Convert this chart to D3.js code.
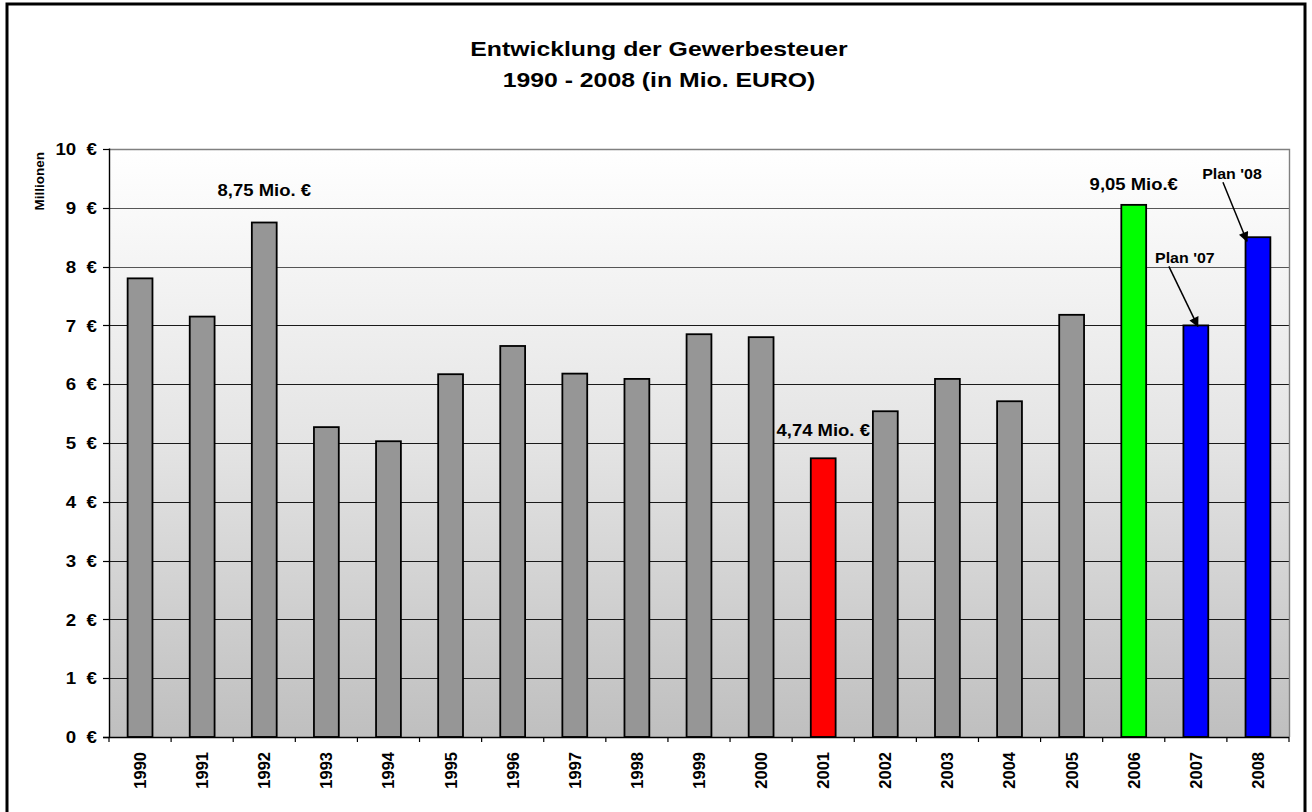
<!DOCTYPE html>
<html>
<head>
<meta charset="utf-8">
<script src="https://cdn.jsdelivr.net/npm/d3@7/dist/d3.min.js"></script>
<style>
  body { margin: 0; background: #fff; }
  svg text { font-family: "Liberation Sans", Arial, sans-serif; font-weight: bold; fill: #000; }
</style>
</head>
<body>
<div id="chart"></div>
<script>
// data
const years = ['1990', '1991', '1992', '1993', '1994', '1995', '1996', '1997', '1998', '1999',
  '2000', '2001', '2002', '2003', '2004', '2005', '2006', '2007', '2008'];
const values = [7.8, 7.15, 8.75, 5.27, 5.03, 6.17, 6.65, 6.18, 6.09, 6.85,
  6.8, 4.74, 5.54, 6.09, 5.71, 7.18, 9.05, 7.0, 8.5];
const yTicks = [0, 1, 2, 3, 4, 5, 6, 7, 8, 9, 10];
const lowYears = ['2001'];
const highYears = ['2006'];
const planYears = ['2007', '2008'];
const valueLabels = [['1992', '8,75 Mio. €'], ['2001', '4,74 Mio. €'], ['2006', '9,05 Mio.€']];
const planLabels = [['2007', "Plan '07"], ['2008', "Plan '08"]];

const W = 1312, H = 812;
const plot = {left: 109, right: 1289, top: 149, bottom: 737};

const svg = d3.select('#chart').append('svg')
  .attr('width', W).attr('height', H);

// gradient for plot background
const defs = svg.append('defs');
const grad = defs.append('linearGradient').attr('id', 'bg')
  .attr('x1', 0).attr('y1', 0).attr('x2', 0).attr('y2', 1);
grad.append('stop').attr('offset', '0%').attr('stop-color', '#ffffff');
grad.append('stop').attr('offset', '50%').attr('stop-color', '#e4e4e4');
grad.append('stop').attr('offset', '100%').attr('stop-color', '#bfbfbf');

defs.append('marker').attr('id', 'arrow')
  .attr('viewBox', '0 0 10 10').attr('refX', 9).attr('refY', 5)
  .attr('markerWidth', 11).attr('markerHeight', 10)
  .attr('markerUnits', 'userSpaceOnUse')
  .attr('orient', 'auto')
  .append('path').attr('d', 'M0,0 L10,5 L0,10 Z').attr('fill', '#000');

// outer frame
svg.append('rect').attr('x', 7).attr('y', 4).attr('width', 1298).attr('height', 830)
  .attr('fill', '#fff').attr('stroke', '#000').attr('stroke-width', 3);

const x = d3.scaleBand().domain(years).range([plot.left, plot.right]);
const y = d3.scaleLinear().domain([0, 10]).range([plot.bottom, plot.top]);
const barW = x.bandwidth() * 0.4;

// plot background
svg.append('rect')
  .attr('x', plot.left).attr('y', y(10))
  .attr('width', plot.right - plot.left).attr('height', y(0) - y(10))
  .attr('fill', 'url(#bg)');

// gridlines
svg.append('g').selectAll('line')
  .data(yTicks.filter(d => d > 0 && d < 10))
  .enter().append('line')
  .attr('x1', plot.left).attr('x2', plot.right)
  .attr('y1', d => Math.round(y(d)) + 0.5).attr('y2', d => Math.round(y(d)) + 0.5)
  .attr('stroke', d => d >= 8 ? '#555' : '#1a1a1a').attr('stroke-width', 1.2);

// plot border (top / right)
svg.append('path')
  .attr('d', `M${plot.left},${Math.round(y(10)) + 0.5} H${plot.right + 0.5} V${plot.bottom}`)
  .attr('fill', 'none').attr('stroke', '#808080').attr('stroke-width', 1.4);

// bars
const colorFor = yr => lowYears.includes(yr) ? '#ff0000'
  : highYears.includes(yr) ? '#00ff00'
  : planYears.includes(yr) ? '#0000ff' : '#969696';

svg.append('g').selectAll('rect')
  .data(years.map((yr, i) => ({year: yr, value: values[i]})))
  .enter().append('rect')
  .attr('x', d => x(d.year) + (x.bandwidth() - barW) / 2)
  .attr('y', d => y(d.value))
  .attr('width', barW)
  .attr('height', d => y(0) - y(d.value))
  .attr('fill', d => colorFor(d.year))
  .attr('stroke', '#000').attr('stroke-width', 1.8);

// y axis
const yAxis = svg.append('g');
yAxis.append('line')
  .attr('x1', plot.left + 0.5).attr('x2', plot.left + 0.5)
  .attr('y1', y(10) - 0.5).attr('y2', y(0))
  .attr('stroke', '#000').attr('stroke-width', 1.4);
yAxis.selectAll('line.tick').data(yTicks).enter().append('line')
  .attr('class', 'tick')
  .attr('x1', plot.left - 6).attr('x2', plot.left)
  .attr('y1', d => Math.round(y(d)) + 0.5).attr('y2', d => Math.round(y(d)) + 0.5)
  .attr('stroke', '#000').attr('stroke-width', 1.2);
yAxis.selectAll('text').data(yTicks).enter().append('text')
  .attr('text-anchor', 'end')
  .attr('font-size', 17)
  .attr('dy', '0.36em')
  .attr('transform', d => `translate(97,${y(d)}) scale(1.1,1)`)
  .text(d => d + '\u00a0\u00a0€');

// y axis title
svg.append('text')
  .attr('text-anchor', 'middle')
  .attr('font-size', 13.5)
  .attr('transform', `translate(44,${y(9.45)}) rotate(-90)`)
  .text('Millionen');

// x axis
const xAxis = svg.append('g');
xAxis.append('line')
  .attr('x1', plot.left - 6).attr('x2', plot.right)
  .attr('y1', y(0) + 0.5).attr('y2', y(0) + 0.5)
  .attr('stroke', '#000').attr('stroke-width', 1.4);
xAxis.selectAll('line.tick').data(years.concat(['end'])).enter().append('line')
  .attr('class', 'tick')
  .attr('x1', d => d === 'end' ? plot.right : x(d))
  .attr('x2', d => d === 'end' ? plot.right : x(d))
  .attr('y1', y(0)).attr('y2', y(0) + 5)
  .attr('stroke', '#000').attr('stroke-width', 1.2);
xAxis.selectAll('text').data(years).enter().append('text')
  .attr('text-anchor', 'end')
  .attr('font-size', 16.5)
  .attr('dy', '0.36em')
  .attr('transform', d => `translate(${x(d) + x.bandwidth() / 2},${y(0) + 15}) rotate(-90)`)
  .text(d => d);

// title
const title = svg.append('g');
title.append('text')
  .attr('text-anchor', 'middle').attr('font-size', 20)
  .attr('transform', 'translate(659,55.5) scale(1.24,1)')
  .text('Entwicklung der Gewerbesteuer');
title.append('text')
  .attr('text-anchor', 'middle').attr('font-size', 20)
  .attr('transform', 'translate(659,87) scale(1.24,1)')
  .text('1990 - 2008 (in Mio. EURO)');

// value labels above highlighted bars
const labelGap = {'1992': 27, '2001': 22, '2006': 15};
svg.append('g').selectAll('text')
  .data(valueLabels)
  .enter().append('text')
  .attr('text-anchor', 'middle')
  .attr('font-size', 16.5)
  .attr('transform', d => {
    const v = values[years.indexOf(d[0])];
    return `translate(${x(d[0]) + x.bandwidth() / 2},${y(v) - labelGap[d[0]]}) scale(1.12,1)`;
  })
  .text(d => d[1]);

// plan labels with arrows
const planLayout = {
  '2007': {lx: -11, ly: 62, ax: -27, ay: 59, tx: 2, ty: 1},
  '2008': {lx: -26, ly: 58, ax: -35, ay: 55, tx: -11, ty: 4}
};
const planG = svg.append('g');
planLabels.forEach(([yr, txt]) => {
  const cx = x(yr) + x.bandwidth() / 2;
  const top = y(values[years.indexOf(yr)]);
  const p = planLayout[yr];
  planG.append('text')
    .attr('text-anchor', 'middle').attr('font-size', 14.5)
    .attr('transform', `translate(${cx + p.lx},${top - p.ly}) scale(1.1,1)`)
    .text(txt);
  planG.append('line')
    .attr('x1', cx + p.ax).attr('y1', top - p.ay)
    .attr('x2', cx + p.tx).attr('y2', top + p.ty)
    .attr('stroke', '#000').attr('stroke-width', 1.5)
    .attr('marker-end', 'url(#arrow)');
});
</script>
</body>
</html>
